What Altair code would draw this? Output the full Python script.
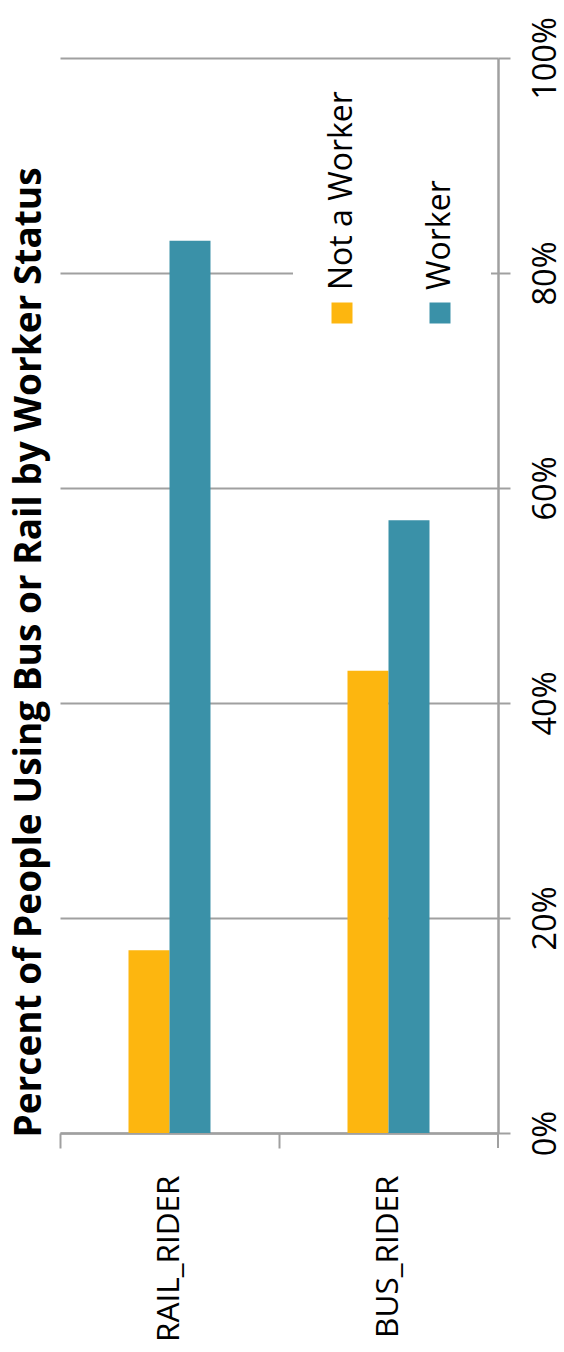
import altair as alt
import pandas as pd

categories = ["RAIL_RIDER", "BUS_RIDER"]
series = ["Not a Worker", "Worker"]
not_a_worker = [0.17, 0.43]
worker = [0.83, 0.57]
colors = ["#FDB60F", "#3A91A8"]
y_ticks = [0, 0.2, 0.4, 0.6, 0.8, 1.0]
title_text = "Percent of People Using Bus or Rail by Worker Status"

rows = []
for i, c in enumerate(categories):
    rows.append({"category": c, "status": series[0], "share": not_a_worker[i]})
    rows.append({"category": c, "status": series[1], "share": worker[i]})
df = pd.DataFrame(rows)

W, H = 438, 1075
FONT = "Open Sans"
GRID = "#A0A0A0"

bars = alt.Chart(df).mark_bar().encode(
    x=alt.X(
        "category:N", sort=categories,
        scale=alt.Scale(paddingInner=0.6256, paddingOuter=0.3128),
        axis=alt.Axis(title=None, labelAngle=270, tickOffset=-109.5, labelOffset=109.5,
                      tickSize=15, tickColor=GRID, tickWidth=2, domainColor=GRID,
                      domainWidth=2.5, labelPadding=27, labelFontSize=31.5, labelFont=FONT,
                      labelColor="black", grid=False),
    ),
    xOffset=alt.XOffset("status:N", sort=series,
                        scale=alt.Scale(paddingInner=0, paddingOuter=0)),
    y=alt.Y(
        "share:Q", scale=alt.Scale(domain=[0, 1], nice=False),
        axis=alt.Axis(title=None, orient="right", values=y_ticks, format="%",
                      labelAngle=270, labelAlign="center", labelBaseline="middle",
                      labelPadding=35, labelFontSize=32.5, labelFont=FONT, labelColor="black",
                      tickSize=12, tickColor=GRID, tickWidth=2, domainColor=GRID,
                      domainWidth=2.5, grid=True, gridColor=GRID, gridWidth=2),
    ),
    color=alt.Color("status:N", sort=series,
                    scale=alt.Scale(domain=series, range=colors), legend=None),
)

extra_tick = alt.Chart(pd.DataFrame({"a": [0]})).mark_rule(color=GRID, strokeWidth=2).encode(
    x=alt.value(W), y=alt.value(H), y2=alt.value(H + 15)
)

legend_bg = alt.Chart(pd.DataFrame({"a": [0]})).mark_rect(color="white").encode(
    x=alt.value(233), x2=alt.value(431), y=alt.value(15), y2=alt.value(275)
)

legend_x = [282, 380]
layers = [bars, extra_tick, legend_bg]
for i, s in enumerate(series):
    ldf = pd.DataFrame({"status": [s]})
    layers.append(
        alt.Chart(ldf).mark_square(size=441, color=colors[i], opacity=1).encode(
            x=alt.value(legend_x[i]), y=alt.value(255)
        )
    )
    layers.append(
        alt.Chart(ldf).mark_text(angle=270, align="left", baseline="middle",
                                 font=FONT, fontSize=32, color="black").encode(
            x=alt.value(legend_x[i]), y=alt.value(232), text="status:N"
        )
    )

chart = alt.layer(*layers).properties(
    width=W, height=H,
    autosize=alt.AutoSizeParams(type="none"),
    padding={"left": 60, "top": 58, "right": 66, "bottom": 219},
    title=alt.Title(title_text, orient="left", anchor="middle", fontSize=37,
                    fontWeight="bold", font=FONT, color="black", offset=10, dx=-57),
).configure_view(stroke=None)

chart.save("out.html", embed_options={"renderer": "svg", "actions": False})
